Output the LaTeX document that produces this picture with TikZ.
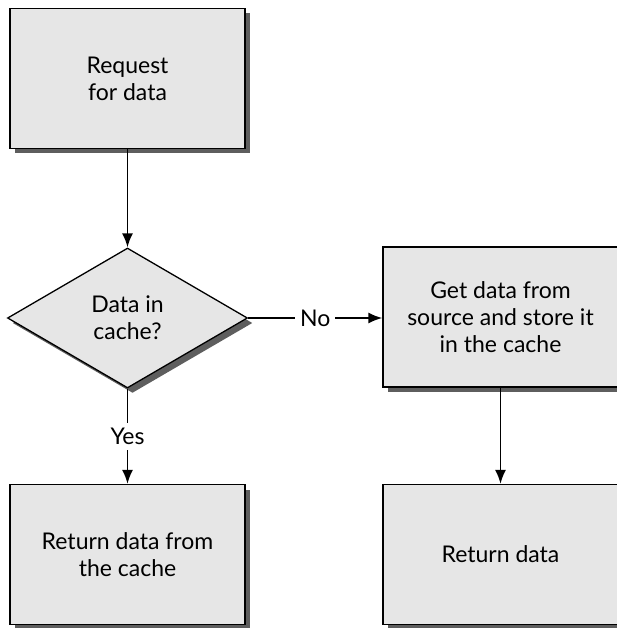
\documentclass[tikz,border=0pt]{standalone}
\usepackage{fontspec}
\setmainfont{Lato}
\usetikzlibrary{shapes.geometric,shadows,arrows.meta}
\definecolor{boxgray}{HTML}{E6E6E6}
\definecolor{shadowgray}{HTML}{5E5E5E}
\tikzset{
  shade it/.style={drop shadow={shadow xshift=5pt,shadow yshift=-5pt,fill=shadowgray,opacity=1}},
  box/.style={draw,line width=1.3pt,fill=boxgray,minimum width=235pt,minimum height=140pt,align=center,font=\fontsize{23}{27}\selectfont,shade it},
  decision/.style={diamond,draw,line width=1.3pt,fill=boxgray,minimum width=240pt,minimum height=140pt,inner sep=0pt,align=center,font=\fontsize{23}{27}\selectfont,shade it},
  flow/.style={line width=1.8pt,-{Latex[length=14pt,width=11pt]}},
  lbl/.style={fill=white,inner sep=5pt,font=\fontsize{23}{27}\selectfont}
}

\begin{document}
\begin{tikzpicture}[x=1pt,y=-1pt]
\useasboundingbox (0,0) rectangle (616,628);
\node[box] (req) at (127.5,78.5) {Request\\for data};
\node[decision] (dec) at (127.5,318) {Data in\\cache?};
\node[box] (get) at (500.5,317) {Get data from\\source and store it\\in the cache};
\node[box] (ret1) at (127.5,554.5) {Return data from\\the cache};
\node[box] (ret2) at (500.5,554.5) {Return data};
\draw[flow] (req) -- (dec);
\draw[flow] (dec.east) -- node[lbl] {No} (dec.east -| get.west);
\draw[flow] (dec) -- node[lbl] {Yes} (ret1);
\draw[flow] (get) -- (ret2);
\end{tikzpicture}
\end{document}
